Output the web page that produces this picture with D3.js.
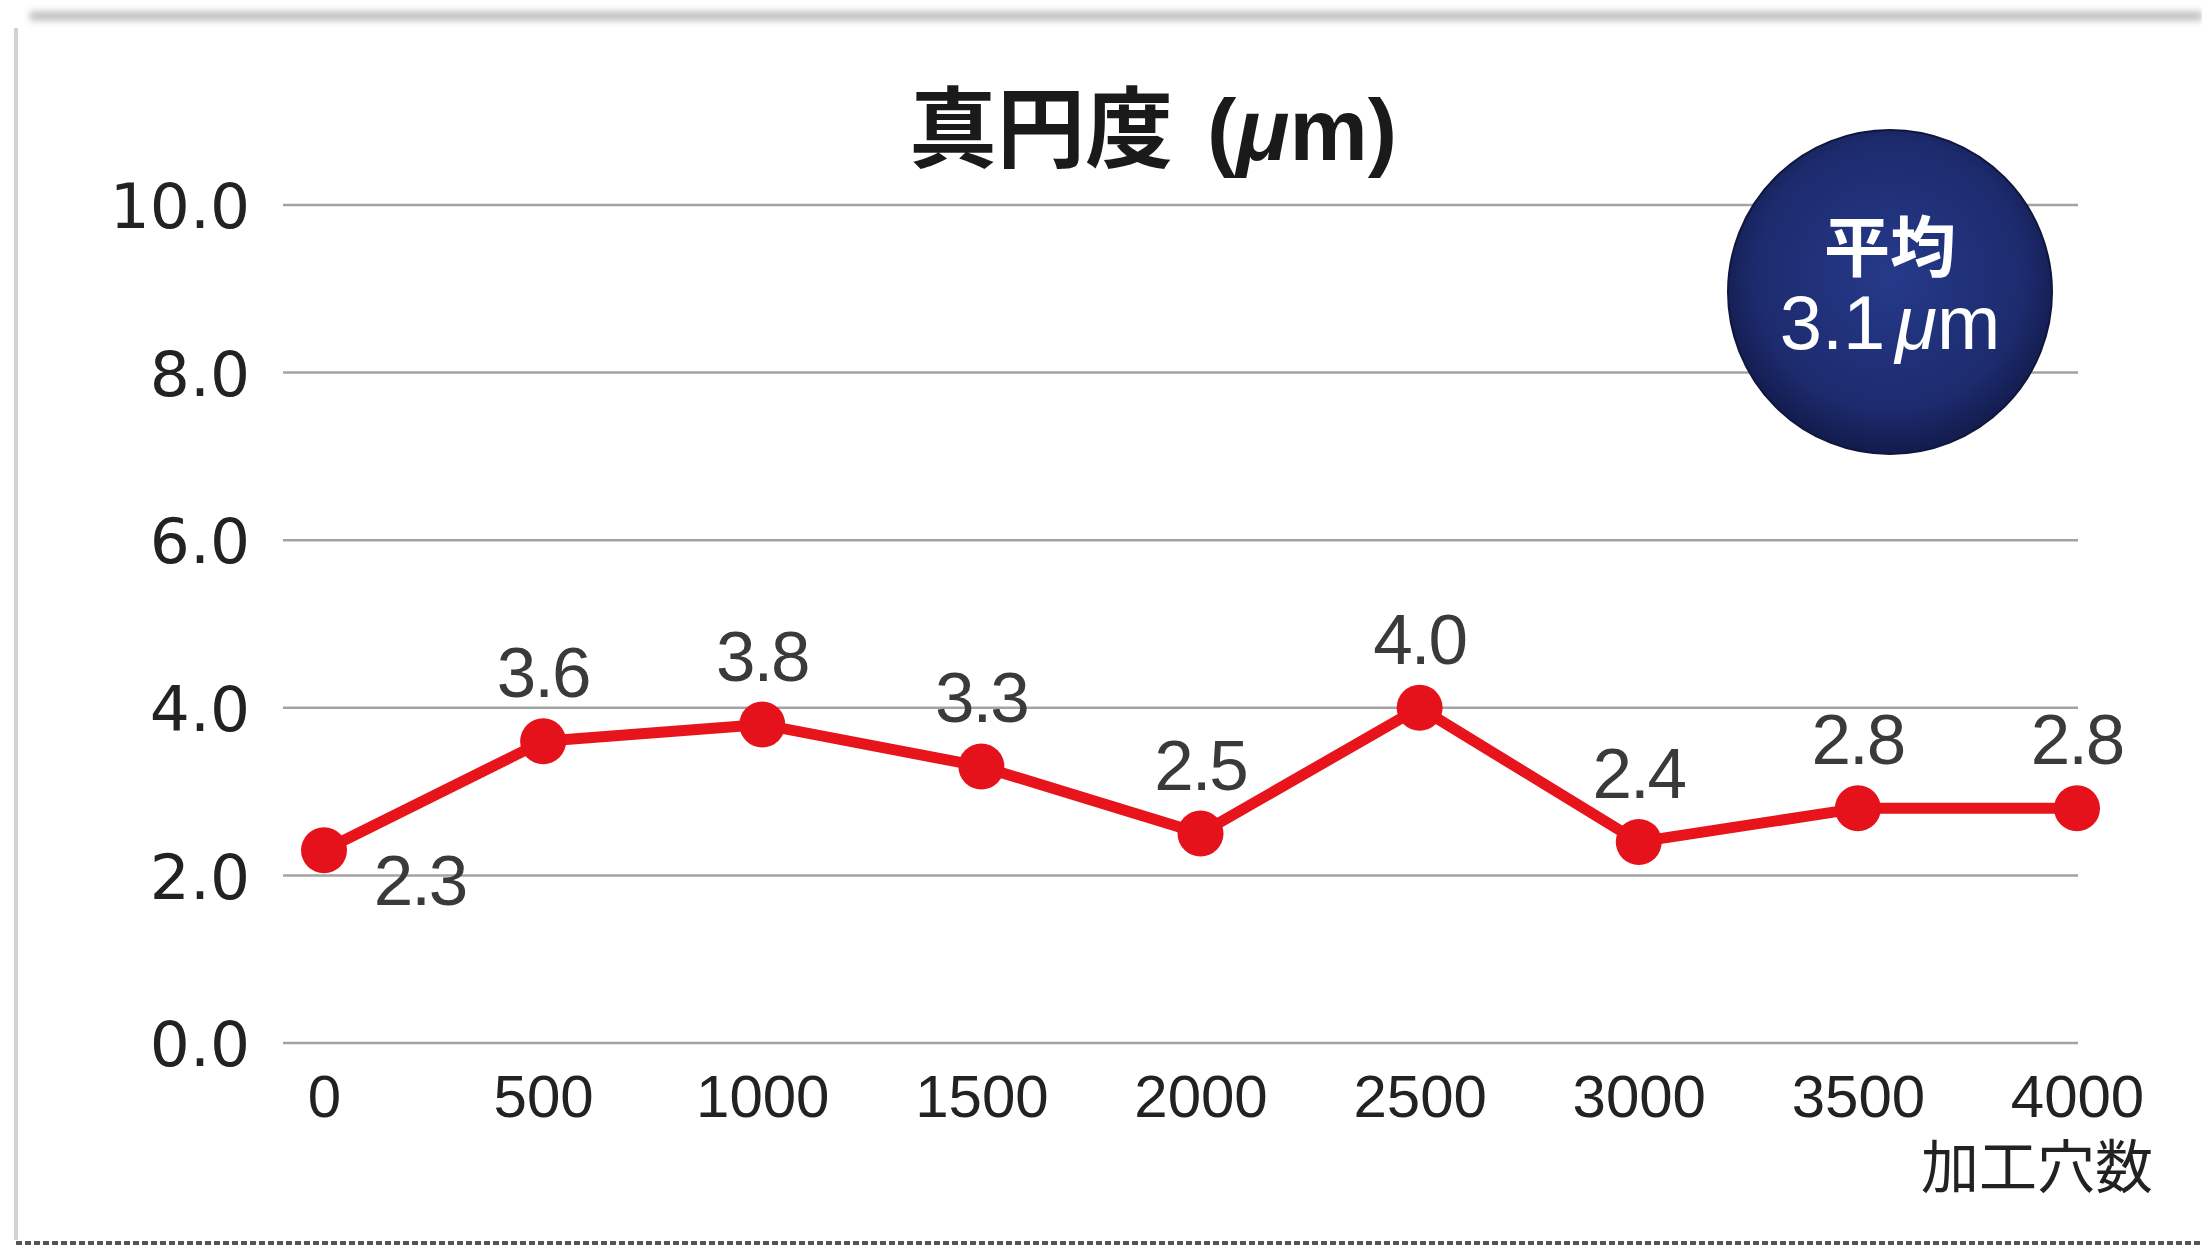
<!DOCTYPE html>
<html>
<head>
<meta charset="utf-8">
<script src="https://cdn.jsdelivr.net/npm/d3@7"></script>
<style>
  html, body { margin: 0; padding: 0; background: #fff; }
  svg { display: block; }
</style>
</head>
<body>
<svg id="chart" width="2202" height="1246"></svg>
<script>
// Roundness (真円度, µm) measured every 500 machined holes
const holeCounts = [0, 500, 1000, 1500, 2000, 2500, 3000, 3500, 4000];
const roundness  = [2.3, 3.6, 3.8, 3.3, 2.5, 4.0, 2.4, 2.8, 2.8];
const yTicks     = [0, 2, 4, 6, 8, 10];
const titleMain  = "真円度";
const titleUnit  = "(μm)";
const xAxisTitle = "加工穴数";
const badgeLabel = "平均";
const badgeValue = "3.1";
const badgeUnit  = "μm";

const W = 2202, H = 1246;
const svg = d3.select("#chart");

const x = d3.scalePoint().domain(holeCounts).range([324, 2077]);
const y = d3.scaleLinear().domain([0, 10]).range([1043, 205]);

const latin = "'Liberation Sans', Arial, Helvetica, sans-serif";
const cjk = "'Noto Sans CJK JP', 'Noto Sans CJK SC', sans-serif";

// panel frame
const defs = svg.append("defs");
defs.append("filter").attr("id", "soft").attr("x", "-5%").attr("y", "-100%")
  .attr("width", "110%").attr("height", "300%")
  .append("feGaussianBlur").attr("stdDeviation", 3);
svg.append("line").attr("x1", 16).attr("x2", 16).attr("y1", 28).attr("y2", 1240)
  .attr("stroke", "#cfd3d8").attr("stroke-width", 4);
svg.append("rect").attr("x", 30).attr("y", 11).attr("width", W - 30).attr("height", 10)
  .attr("fill", "#c4c4c4").attr("filter", "url(#soft)");
svg.append("line").attr("x1", 16).attr("x2", W).attr("y1", 1243).attr("y2", 1243)
  .attr("stroke", "#555").attr("stroke-width", 4).attr("stroke-dasharray", "6 3");

// horizontal gridlines
svg.append("g").selectAll("line").data(yTicks).join("line")
  .attr("x1", 283).attr("x2", 2078)
  .attr("y1", d => y(d)).attr("y2", d => y(d))
  .attr("stroke", "#a3a3a3").attr("stroke-width", 2.5);

// y axis labels
const yAxis = d3.axisLeft(y).tickValues(yTicks).tickFormat(d3.format(".1f")).tickSize(0).tickPadding(0);
const gy = svg.append("g").attr("transform", "translate(250,0)").call(yAxis);
gy.select(".domain").remove();
gy.selectAll("text").attr("font-family", "'DejaVu Sans', sans-serif").attr("font-size", 63)
  .attr("fill", "#222").attr("dy", "0.36em");

// x axis labels
const xAxis = d3.axisBottom(x).tickSize(0).tickPadding(0);
const gx = svg.append("g").attr("transform", "translate(0,1117)").call(xAxis);
gx.select(".domain").remove();
gx.selectAll("text").attr("font-family", latin).attr("font-size", 60)
  .attr("fill", "#222").attr("dy", 0);

svg.append("text").attr("x", 2153).attr("y", 1188).attr("text-anchor", "end")
  .attr("font-family", cjk).attr("font-size", 58).attr("fill", "#222").text(xAxisTitle);

// title
const title = svg.append("text").attr("x", 1153).attr("y", 160).attr("text-anchor", "middle")
  .attr("font-weight", "bold").attr("fill", "#1a1a1a");
title.append("tspan").attr("font-family", cjk).attr("font-size", 88).text(titleMain);
title.append("tspan").attr("font-family", latin).attr("font-size", 88).attr("dx", 34).text("(");
title.append("tspan").attr("font-family", latin).attr("font-size", 88).attr("font-style", "italic").text(titleUnit.slice(1, 2));
title.append("tspan").attr("font-family", latin).attr("font-size", 88).text(titleUnit.slice(2));

// series line and markers
const line = d3.line().x((d, i) => x(holeCounts[i])).y(d => y(d));
svg.append("path").datum(roundness).attr("d", line)
  .attr("fill", "none").attr("stroke", "#e8141c").attr("stroke-width", 11)
  .attr("stroke-linejoin", "round");
svg.append("g").selectAll("circle").data(roundness).join("circle")
  .attr("cx", (d, i) => x(holeCounts[i])).attr("cy", d => y(d)).attr("r", 23)
  .attr("fill", "#e5121c");

// value labels (first one sits below-right of its marker)
svg.append("g").selectAll("text").data(roundness).join("text")
  .attr("x", (d, i) => x(holeCounts[i]) + (i === 0 ? 96 : 0))
  .attr("y", (d, i) => y(d) + (i === 0 ? 55 : -44))
  .attr("text-anchor", "middle")
  .attr("font-family", latin).attr("font-size", 71).attr("letter-spacing", -2)
  .attr("fill", "#3a3a3a").text(d => d.toFixed(1));

// average badge
const grad = defs.append("radialGradient").attr("id", "badgeFill")
  .attr("cx", "50%").attr("cy", "45%").attr("r", "55%");
grad.append("stop").attr("offset", "0%").attr("stop-color", "#263a8a");
grad.append("stop").attr("offset", "75%").attr("stop-color", "#1d2b6e");
grad.append("stop").attr("offset", "100%").attr("stop-color", "#131b4c");
svg.append("circle").attr("cx", 1890).attr("cy", 292).attr("r", 162)
  .attr("fill", "url(#badgeFill)").attr("stroke", "#10163d").attr("stroke-width", 2);
svg.append("text").attr("x", 1890).attr("y", 242).attr("dominant-baseline", "central")
  .attr("text-anchor", "middle").attr("font-family", cjk).attr("font-weight", "bold")
  .attr("font-size", 66).attr("fill", "#fff").text(badgeLabel);
const bv = svg.append("text").attr("x", 1890).attr("y", 349).attr("text-anchor", "middle")
  .attr("font-family", latin).attr("font-size", 76).attr("fill", "#fff");
bv.append("tspan").text(badgeValue);
bv.append("tspan").attr("dx", 10).attr("font-style", "italic").text(badgeUnit.slice(0, 1));
bv.append("tspan").text(badgeUnit.slice(1));
</script>
</body>
</html>
